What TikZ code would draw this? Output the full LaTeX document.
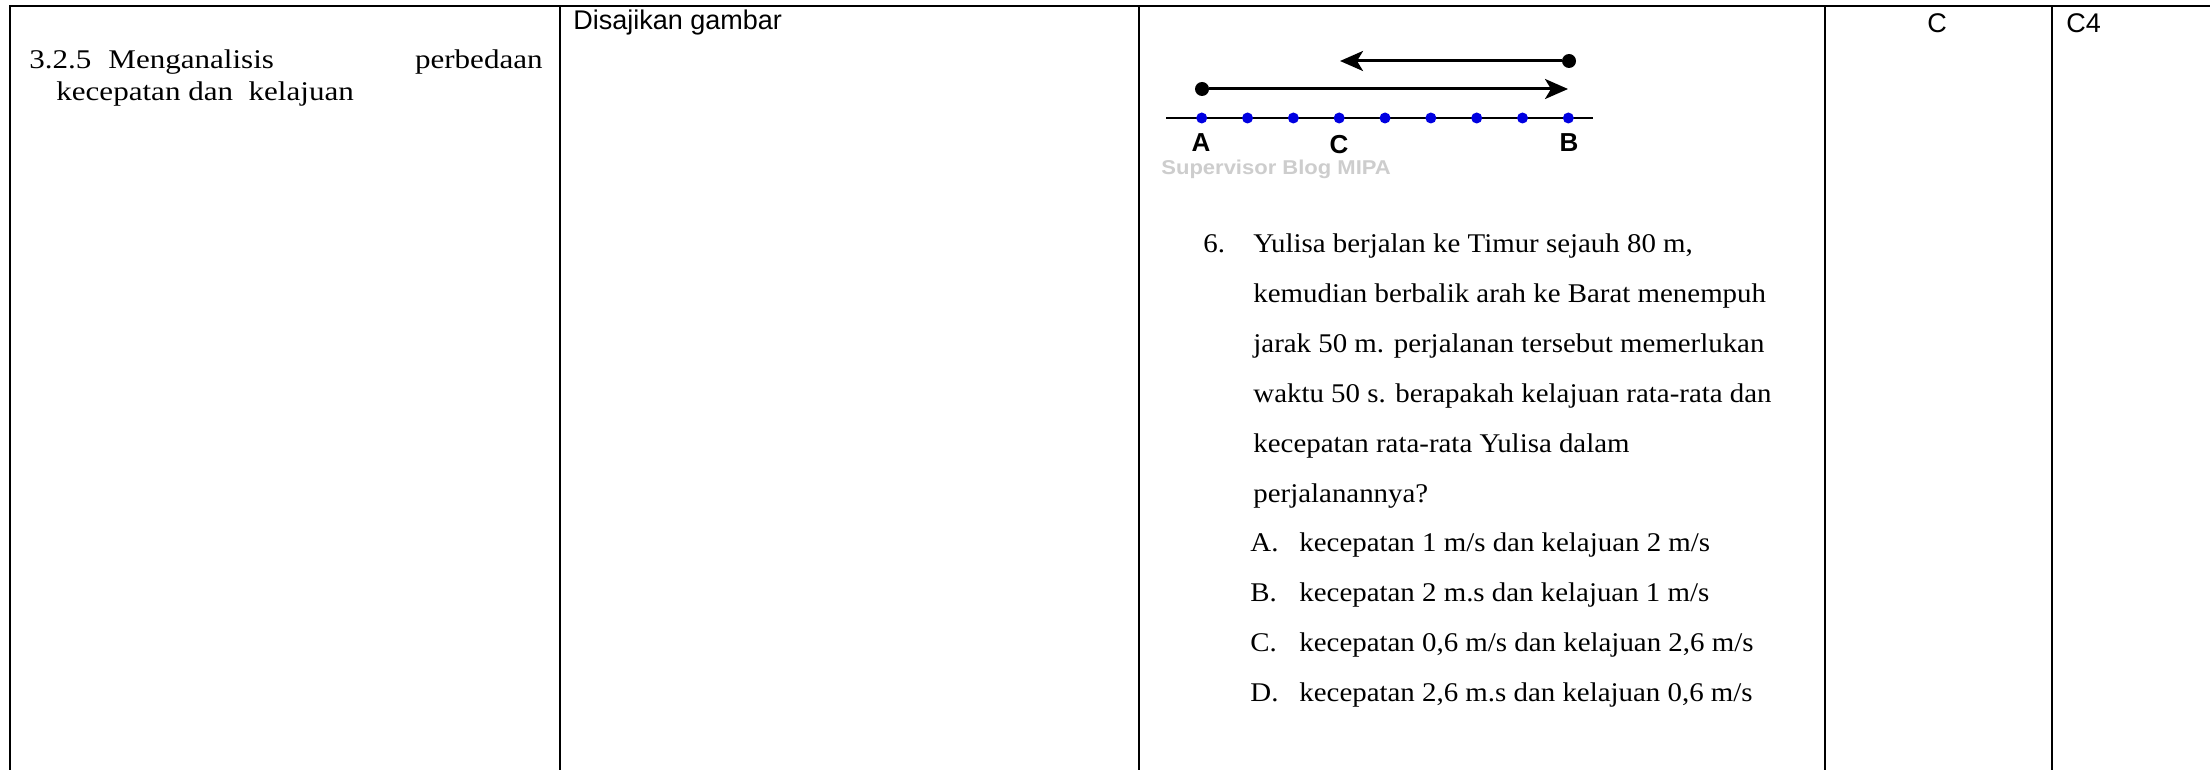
\documentclass[tikz,border=0pt]{standalone}
\usepackage{fontspec}
\setmainfont{Liberation Serif}
\newfontfamily\qfont{Liberation Serif}[FakeStretch=1.07]
\newfontfamily\lfont{Liberation Serif}[FakeStretch=1.15]
\newfontfamily\sfarial{Liberation Sans}
\newfontfamily\wmfont{Liberation Sans}[FakeStretch=1.1]
\usetikzlibrary{arrows.meta}
\definecolor{dotblue}{RGB}{0,0,225}
\definecolor{wmgray}{RGB}{205,205,205}
\begin{document}
\begin{tikzpicture}[x=0.5pt,y=-0.5pt,
 rule/.style={line width=1.1pt},
 serif/.style={font=\qfont\fontsize{13.5pt}{16pt}\selectfont, inner sep=0pt, anchor=base west},
 lserif/.style={font=\lfont\fontsize{13.5pt}{16pt}\selectfont, inner sep=0pt, anchor=base west},
 sans/.style={font=\sfarial\fontsize{13.5pt}{16pt}\selectfont, inner sep=0pt, anchor=base west},
 lbl/.style={font=\sfarial\bfseries\fontsize{13pt}{15pt}\selectfont, inner sep=0pt, anchor=base},
 wm/.style={font=\wmfont\bfseries\fontsize{10pt}{12pt}\selectfont, text=wmgray, inner sep=0pt, anchor=base west},
 bdot/.style={circle, fill=black, inner sep=0pt, minimum size=7pt},
 udot/.style={circle, fill=dotblue, inner sep=0pt, minimum size=5.5pt},
 arr/.style={line width=1.5pt, -{Stealth[length=11.5pt,width=10pt,inset=3pt]}},
]
\useasboundingbox (0,0) rectangle (2210,770);
\fill[white] (0,0) rectangle (2210,770);
% table rules
\draw[rule] (10,770) -- (10,6) -- (2210,6);
\foreach \x in {560,1139,1825,2052} \draw[rule] (\x,6) -- (\x,770);
% left cell
\node[lserif] (n1) at (29,69) {3.2.5};
\node[lserif] (n2) at (108,69) {Menganalisis};
\node[lserif, anchor=base east] (n3) at (543,69) {perbedaan};
\node[lserif] (n4) at (56,101) {kecepatan dan\ \ kelajuan};
% second cell
\node[sans] (dg) at (573,30) {Disajikan gambar};
% key and level
\node[sans, anchor=base] (key) at (1937,33) {C};
\node[sans] (lvl) at (2066,33) {C4};
% figure
\node[bdot] (p1) at (1569,61) {};
\coordinate (p1t) at (1340,61);
\node[bdot] (p2) at (1202,89) {};
\coordinate (p2t) at (1568,89);
\draw[arr] (p1) -- (p1t);
\draw[arr] (p2) -- (p2t);
\coordinate (nl) at (1166,118);
\coordinate (nr) at (1593,118);
\draw[line width=1.2pt] (nl) -- (nr);
\foreach \k in {0,...,8} \node[udot] (u\k) at ({1201.7+45.83*\k},118) {};
\node[lbl] (la) at (1201,152) {A};
\node[lbl] (lc) at (1339,154) {C};
\node[lbl] (lb) at (1569,152) {B};
\node[wm] (wmk) at (1161,175) {Supervisor Blog MIPA};
% question
\node[serif] (q0) at (1203,253) {6.};
\node[serif] (q1) at (1253,253) {Yulisa berjalan ke Timur sejauh 80 m,};
\node[serif] (q2) at (1253,302.8) {kemudian berbalik arah ke Barat menempuh};
\node[serif] (q3) at (1253,352.6) {jarak 50 m. perjalanan tersebut memerlukan};
\node[serif] (q4) at (1253,402.4) {waktu 50 s. berapakah kelajuan rata-rata dan};
\node[serif] (q5) at (1253,452.2) {kecepatan rata-rata Yulisa dalam};
\node[serif] (q6) at (1253,502) {perjalanannya?};
\node[serif] (oa) at (1250,551.8) {A.};
\node[serif] (ta) at (1299,551.8) {kecepatan 1 m/s dan kelajuan 2 m/s};
\node[serif] (ob) at (1250,601.6) {B.};
\node[serif] (tb) at (1299,601.6) {kecepatan 2 m.s dan kelajuan 1 m/s};
\node[serif] (oc) at (1250,651.4) {C.};
\node[serif] (tc) at (1299,651.4) {kecepatan 0,6 m/s dan kelajuan 2,6 m/s};
\node[serif] (od) at (1250,701.2) {D.};
\node[serif] (td) at (1299,701.2) {kecepatan 2,6 m.s dan kelajuan 0,6 m/s};
\end{tikzpicture}
\end{document}
